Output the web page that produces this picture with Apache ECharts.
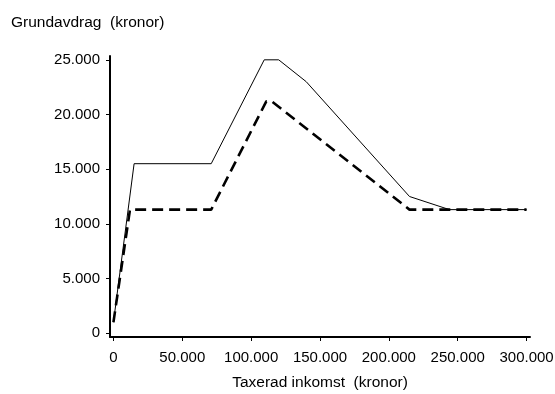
<!DOCTYPE html>
<html>
<head>
<meta charset="utf-8">
<script src="https://cdn.jsdelivr.net/npm/echarts@6/dist/echarts.min.js"></script>
<style>
  html, body { margin: 0; padding: 0; background: #fff; }
  #chart { width: 555px; height: 394px; }
</style>
</head>
<body>
<div id="chart"></div>
<script>
// Income (kronor) and basic deduction (kronor), two rule sets
const incomeSolid = [0, 15000, 71000, 109500, 120000, 140000, 215000, 244000, 300000];
const deductSolid = [1000, 15500, 15500, 25000, 25000, 23000, 12500, 11300, 11300];

const incomeDashed = [0, 12000, 71000, 111000, 115000, 215000, 300000];
const deductDashed = [1000, 11300, 11300, 21200, 21200, 11300, 11300];

const xTicks = [0, 50000, 100000, 150000, 200000, 250000, 300000];
const yTicks = [0, 5000, 10000, 15000, 20000, 25000];

const yTitle = 'Grundavdrag  (kronor)';
const xTitle = 'Taxerad inkomst  (kronor)';

function fmt(v) {
  return String(v).replace(/\B(?=(\d{3})+(?!\d))/g, '.');
}

const FONT = '"Liberation Sans", Arial, sans-serif';
const chart = echarts.init(document.getElementById('chart'), null, { renderer: 'canvas' });

chart.setOption({
  animation: false,
  backgroundColor: '#fff',
  title: {
    text: yTitle,
    left: 6,
    top: 10,
    textStyle: { fontFamily: FONT, fontSize: 15.5, fontWeight: 'normal', color: '#000' }
  },
  grid: { left: 110, right: 25, top: 56, bottom: 57, containLabel: false, outerBoundsMode: 'none' },
  xAxis: {
    type: 'value',
    min: -2500,
    max: 302500,
    name: xTitle,
    nameLocation: 'middle',
    nameGap: 38,
    nameTextStyle: { fontFamily: FONT, fontSize: 15.5, color: '#000' },
    splitLine: { show: false },
    axisLine: { show: true, onZero: false, lineStyle: { color: '#000', width: 2 } },
    axisTick: { show: true, length: 4, customValues: xTicks, lineStyle: { color: '#000', width: 1 } },
    axisLabel: {
      customValues: xTicks,
      formatter: fmt,
      margin: 13,
      fontFamily: FONT, fontSize: 15, color: '#000'
    }
  },
  yAxis: {
    type: 'value',
    min: -350,
    max: 25350,
    splitLine: { show: false },
    axisLine: { show: true, onZero: false, lineStyle: { color: '#000', width: 2 } },
    axisTick: { show: true, length: 4, customValues: yTicks, lineStyle: { color: '#000', width: 1 } },
    axisLabel: {
      customValues: yTicks,
      formatter: fmt,
      margin: 10,
      fontFamily: FONT, fontSize: 15, color: '#000'
    }
  },
  series: [
    {
      type: 'line',
      data: incomeSolid.map((x, i) => [x, deductSolid[i]]),
      symbol: 'none',
      lineStyle: { color: '#000', width: 1 }
    },
    {
      type: 'line',
      data: incomeDashed.map((x, i) => [x, deductDashed[i]]),
      symbol: 'none',
      lineStyle: { color: '#000', width: 2.6, type: [11, 6] }
    }
  ]
});
</script>
</body>
</html>
